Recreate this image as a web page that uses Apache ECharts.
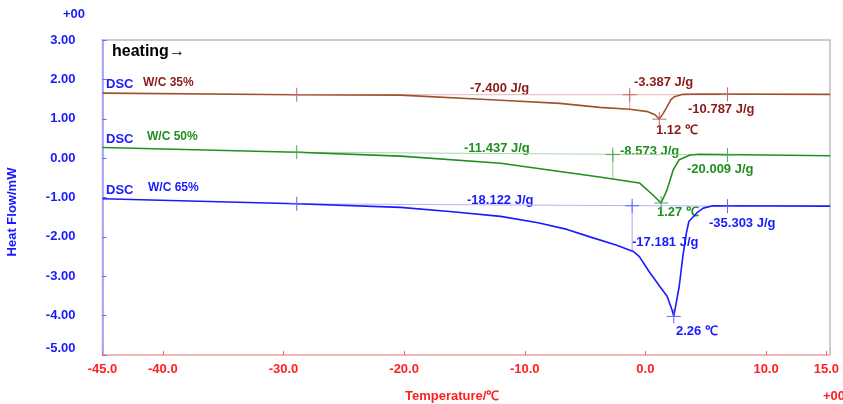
<!DOCTYPE html>
<html>
<head>
    <meta charset="utf-8">
    <title>DSC</title>
    <script src="https://cdn.jsdelivr.net/npm/echarts@6/dist/echarts.min.js"></script>
    <style>
        html, body { margin: 0; padding: 0; background: #fff; }
    </style>
</head>
<body>
    <div id="main" style="width: 843px;height:404px;"></div>
    <script type="text/javascript">
        // curves, [temperature, heat flow]
        var wc35 = [[-45, 1.65], [-28.9, 1.61], [-20.3, 1.60], [-12.0, 1.47], [-7.1, 1.39], [-3.8, 1.29],
            [-1.3, 1.24], [0.2, 1.18], [0.8, 1.10], [1.15, 0.99], [1.5, 1.15], [1.8, 1.31], [2.1, 1.48],
            [2.4, 1.56], [3.1, 1.62], [4.5, 1.63], [15.3, 1.62]];
        var wc50 = [[-45, 0.27], [-28.9, 0.15], [-20.3, 0.05], [-12.0, -0.13], [-7.1, -0.34], [-3.8, -0.48],
            [-2.7, -0.53], [-0.5, -0.63], [0.6, -0.93], [1.3, -1.14], [1.8, -0.80], [2.3, -0.30],
            [2.8, -0.04], [3.7, 0.08], [4.5, 0.10], [15.3, 0.06]];
        var wc65 = [[-45, -1.03], [-28.9, -1.16], [-20.3, -1.25], [-16.0, -1.36], [-12.0, -1.48], [-8.9, -1.64],
            [-6.5, -1.81], [-4.6, -2.00], [-2.5, -2.20], [-1.0, -2.37], [-0.5, -2.50], [0.3, -2.88],
            [1.2, -3.26], [1.8, -3.51], [2.2, -3.85], [2.35, -4.02], [2.8, -3.26], [3.1, -2.50],
            [3.4, -1.90], [3.6, -1.61], [4.3, -1.38], [4.8, -1.27], [5.6, -1.21], [15.3, -1.22]];

        // integration baselines and partition lines
        var base35 = [[-28.9, 1.61], [6.8, 1.61]];
        var base50 = [[-28.9, 0.15], [6.8, 0.08]];
        var base65 = [[-28.9, -1.16], [6.8, -1.22]];
        var cut35 = [[-1.3, 1.70], [-1.3, 1.24]];
        var cut50 = [[-2.7, 0.18], [-2.7, -0.53]];
        var cut65 = [[-1.1, -1.12], [-1.1, -2.37]];
        var cross35 = [[-28.9, 1.61], [-1.3, 1.61], [6.8, 1.62], [1.15, 0.99]];
        var cross50 = [[-28.9, 0.15], [-2.7, 0.09], [6.8, 0.08], [1.3, -1.14]];
        var cross65 = [[-28.9, -1.16], [-1.1, -1.21], [6.8, -1.22], [2.35, -4.02]];

        var xTicks = [-45, -40, -30, -20, -10, 0, 10, 15];

        var brown = '#a0522d', brownText = '#8b1a1a', green = '#1f8f1f', blue = '#1a1aff';
        var font = '"Liberation Sans", Arial, sans-serif';

        var myChart = echarts.init(document.getElementById('main'));

        function curve(data, color) {
            return { type: 'line', data: data, showSymbol: false, symbol: 'none', silent: true,
                lineStyle: { color: color, width: 1.6 }, z: 3 };
        }
        function thin(data, color) {
            return { type: 'line', data: data, showSymbol: false, symbol: 'none', silent: true,
                lineStyle: { color: color, width: 1 }, z: 2 };
        }
        function crosses(data, color) {
            return {
                type: 'custom', data: data, silent: true, z: 4,
                renderItem: function (params, api) {
                    var p = api.coord([api.value(0), api.value(1)]);
                    var st = { stroke: color, lineWidth: 1 };
                    return { type: 'group', children: [
                        { type: 'line', shape: { x1: p[0] - 7, y1: p[1], x2: p[0] + 7, y2: p[1] }, style: st },
                        { type: 'line', shape: { x1: p[0], y1: p[1] - 7, x2: p[0], y2: p[1] + 7 }, style: st }
                    ] };
                }
            };
        }
        function txt(s, x, y, color, size) {
            size = size || 13;
            return { type: 'text', left: x, top: y - size / 2 - 1, silent: true,
                style: { text: s, fill: color, font: 'bold ' + size + 'px ' + font } };
        }

        myChart.setOption({
            animation: false,
            grid: { left: 102.5, right: 13, top: 40, bottom: 49, show: true,
                borderColor: '#bcbcbc', borderWidth: 1.5 },
            xAxis: {
                type: 'value', min: -45, max: 15.3,
                axisLine: { onZero: false, lineStyle: { color: '#ffb0b0', width: 1.5 } },
                axisTick: { inside: true, length: 4, customValues: xTicks, lineStyle: { color: '#ff6060' } },
                axisLabel: { customValues: xTicks, margin: 8, color: '#ff2020', fontWeight: 'bold',
                    fontSize: 13, fontFamily: font,
                    formatter: function (v) { return v.toFixed(1); } },
                splitLine: { show: false }
            },
            yAxis: {
                type: 'value', min: -5, max: 3, interval: 1,
                axisLine: { show: true, onZero: false, lineStyle: { color: '#9a9aff', width: 1.5 } },
                axisTick: { show: true, inside: true, length: 4, lineStyle: { color: '#6060ff' } },
                axisLabel: { margin: 27, color: blue, fontWeight: 'bold', fontSize: 13, fontFamily: font,
                    formatter: function (v) { return v === -5 ? '{up|-5.00}' : v.toFixed(2); },
                    rich: { up: { color: blue, fontWeight: 'bold', fontSize: 13, fontFamily: font,
                        padding: [0, 0, 14, 0] } } },
                splitLine: { show: false }
            },
            series: [
                thin(base35, '#e8b4b4'), thin(base50, '#a8d8a8'), thin(base65, '#b4b4ff'),
                thin(cut35, '#e0a0a0'), thin(cut50, '#90cc90'), thin(cut65, '#a8a8ff'),
                curve(wc35, brown), curve(wc50, green), curve(wc65, blue),
                crosses(cross35, '#c06868'), crosses(cross50, '#50a850'), crosses(cross65, '#6060ff')
            ],
            graphic: [
                txt('+00', 63, 15, blue),
                txt('+00', 823, 397, '#ff2020'),
                txt('heating\u2192', 112, 53, '#000', 16),
                txt('DSC', 106, 85, blue), txt('W/C 35%', 143, 84, brownText, 12),
                txt('DSC', 106, 140, blue), txt('W/C 50%', 147, 138, green, 12),
                txt('DSC', 106, 191, blue), txt('W/C 65%', 148, 189, blue, 12),
                txt('-7.400 J/g', 470, 89.5, brownText),
                txt('-3.387 J/g', 634, 83, brownText),
                txt('-10.787 J/g', 688, 110, brownText),
                txt('1.12 \u2103', 656, 131, brownText),
                txt('-11.437 J/g', 464, 149.5, green),
                txt('-8.573 J/g', 620, 152, green),
                txt('-20.009 J/g', 687, 170, green),
                txt('1.27 \u2103', 657, 213, green),
                txt('-18.122 J/g', 467, 201, blue),
                txt('-17.181 J/g', 632, 243, blue),
                txt('-35.303 J/g', 709, 224, blue),
                txt('2.26 \u2103', 676, 332, blue),
                { type: 'text', left: 405, top: 390, silent: true,
                  style: { text: 'Temperature/\u2103', fill: '#ff2020', font: 'bold 13px ' + font } },
                { type: 'text', x: 12, y: 212, rotation: Math.PI / 2, silent: true,
                  style: { text: 'Heat Flow/mW', fill: blue, font: 'bold 13px ' + font,
                      align: 'center', verticalAlign: 'middle' } }
            ]
        });
    </script>
</body>
</html>
